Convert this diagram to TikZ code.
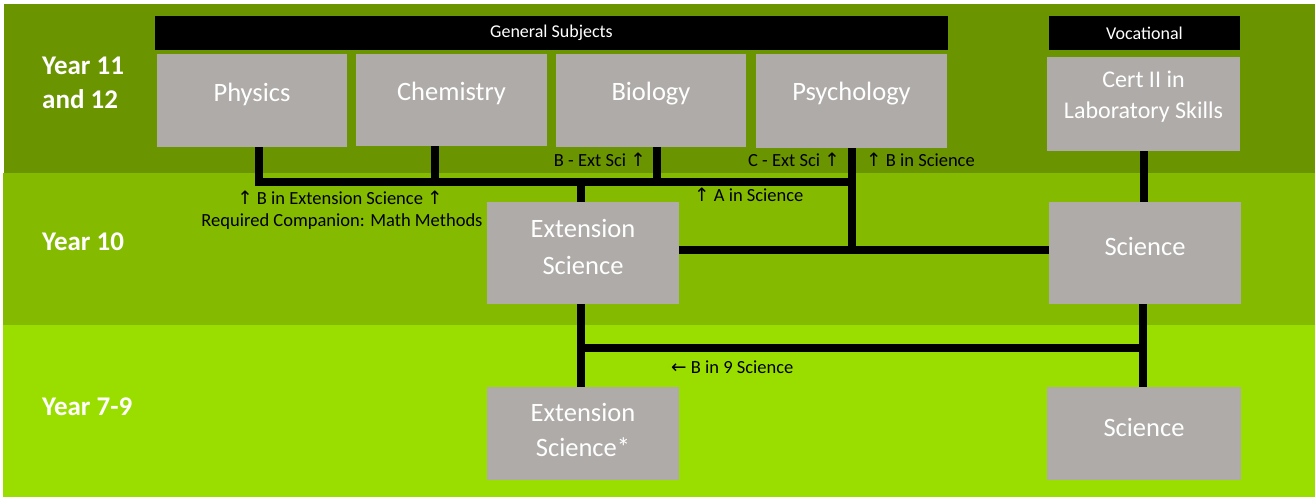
\documentclass[tikz,border=0pt]{standalone}
\usepackage{fontspec}
\setmainfont{Carlito}
\newfontfamily\arrowfont{DejaVu Sans}
\newcommand{\uparr}{{\arrowfont\fontsize{18.5}{18.5}\selectfont ↑}}
\newcommand{\leftarr}{{\arrowfont\fontsize{18.5}{18.5}\selectfont ←}}
\definecolor{bandA}{RGB}{106,148,0}
\definecolor{bandB}{RGB}{132,186,0}
\definecolor{bandC}{RGB}{154,222,0}
\definecolor{boxgray}{RGB}{175,171,169}
\tikzset{
  box/.style={fill=boxgray, draw=none, inner sep=0pt},
  boxtxt/.style={text=white, align=center, inner sep=0pt, font=\fontsize{26.5}{37}\selectfont},
  bar/.style={fill=black, draw=none, inner sep=0pt, text=white, font=\fontsize{18}{20}\selectfont},
  yeartxt/.style={text=white, align=left, anchor=west, inner sep=0pt, font=\bfseries\fontsize{27}{34}\selectfont},
  note/.style={text=black, inner sep=0pt, font=\fontsize{18.5}{24}\selectfont},
  conn/.style={line width=8pt, black, line join=miter}
}
\begin{document}
\begin{tikzpicture}[x=1pt,y=-1pt]
\useasboundingbox (0,0) rectangle (1315,499);
\fill[white] (0,0) rectangle (1315,499);
% bands
\fill[bandA] (4,4) rectangle (1315,173);
\fill[bandB] (3,173) rectangle (1315,325);
\fill[bandC] (3,325) rectangle (1315,497);
% year labels
\node[yeartxt] (y11) at (42,83) {Year 11\\and 12};
\node[yeartxt] (y10) at (42,242) {Year 10};
\node[yeartxt] (y79) at (42,407) {Year 7-9};
% header bars
\node[bar, minimum width=793pt, minimum height=34pt] (gen) at (551.5,33) {General Subjects};
\node[bar, minimum width=191pt, minimum height=34pt] (voc) at (1144.5,33) {Vocational};
% boxes
\node[box, minimum width=190pt, minimum height=93pt] (phys) at (252,100.5) {};
\node[box, minimum width=191pt, minimum height=92pt] (chem) at (451.5,100) {};
\node[box, minimum width=190pt, minimum height=93pt] (bio) at (651,100.5) {};
\node[box, minimum width=191pt, minimum height=94pt] (psy) at (851.5,101) {};
\node[box, minimum width=193pt, minimum height=94pt] (cert) at (1143.5,104) {};
\node[box, minimum width=192pt, minimum height=102pt] (ext10) at (583,253) {};
\node[box, minimum width=192pt, minimum height=102pt] (sci10) at (1145,253) {};
\node[box, minimum width=192pt, minimum height=93pt] (ext79) at (583,433.5) {};
\node[box, minimum width=194pt, minimum height=93pt] (sci79) at (1144,433.5) {};
% box texts
\node[boxtxt] (physT) at ([yshift=6.5pt]phys.center) {Physics};
\node[boxtxt] (chemT) at ([yshift=7pt]chem.center) {Chemistry};
\node[boxtxt] (bioT) at ([yshift=6.5pt]bio.center) {Biology};
\node[boxtxt] (psyT) at ([yshift=7pt]psy.center) {Psychology};
\node[boxtxt, font=\fontsize{24}{31}\selectfont] (certT) at ([yshift=7.5pt]cert.center) {Cert II in\\Laboratory Skills};
\node[boxtxt] (ext10T) at ([yshift=6.5pt]ext10.center) {Extension\\Science};
\node[boxtxt] (sci10T) at ([yshift=7pt]sci10.center) {Science};
\node[boxtxt, font=\fontsize{26.5}{35}\selectfont] (ext79T) at ([yshift=4pt]ext79.center) {Extension\\Science*};
\node[boxtxt] (sci79T) at ([yshift=6.5pt]sci79.center) {Science};
% connectors
\coordinate (h1) at (852,182);
\coordinate (h2) at (1143,348);
\draw[conn] ([xshift=7pt]phys.south) |- (h1);
\draw[conn] ([xshift=-16.5pt]chem.south) -- ([xshift=-16.5pt]chem.south |- h1);
\draw[conn] ([xshift=6pt]bio.south) -- ([xshift=6pt]bio.south |- h1);
\draw[conn] ([xshift=-2pt]ext10.north) -- ([xshift=-2pt]ext10.north |- h1);
\draw[conn] (psy.south) -- (psy.south |- 0,254);
\draw[conn] (ext10.east |- 0,250) -- (sci10.west |- 0,250);
\draw[conn] (cert.south) -- (cert.south |- sci10.north);
\draw[conn] ([xshift=-2pt]ext10.south) -- ([xshift=-2pt]ext79.north);
\draw[conn] ([xshift=-2pt]ext10.south |- h2) -- ([xshift=4pt]h2);
\draw[conn] ([xshift=-2pt]sci10.south) -- ([xshift=-2pt]sci10.south |- sci79.north);
% notes
\node[note] (n1) at (340,198) {\uparr{} B in Extension Science \uparr};
\node[note] (n2) at (342,222) {Required Companion: Math Methods};
\node[note, anchor=east] (n3) at (646,160) {B - Ext Sci \uparr};
\node[note, anchor=east] (n4) at (840,160) {C - Ext Sci \uparr};
\node[note, anchor=west] (n5) at (866,160) {\uparr{} B in Science};
\node[note, anchor=west] (n6) at (694,195) {\uparr{} A in Science};
\node[note, anchor=west] (n7) at (671,367) {\leftarr{} B in 9 Science};
\end{tikzpicture}
\end{document}
